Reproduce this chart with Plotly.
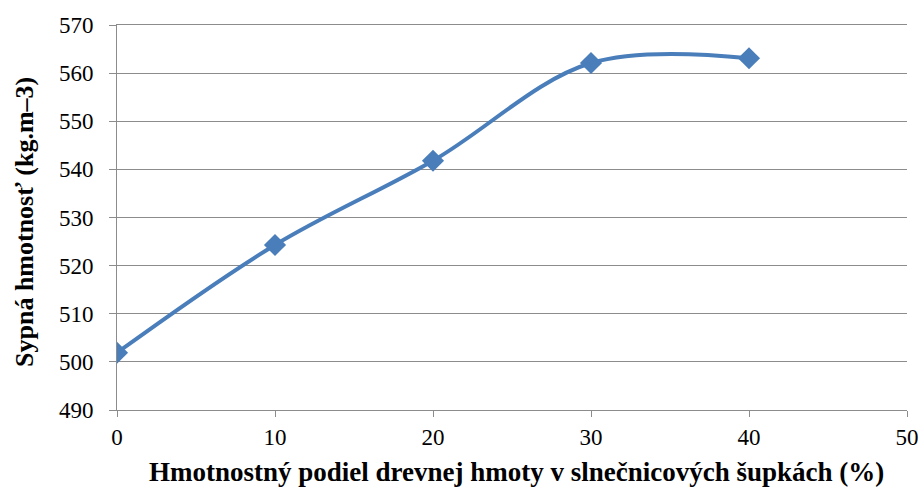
import plotly.graph_objects as go

x_vals = [0, 10, 20, 30, 40]
y_vals = [501.9, 524.3, 541.8, 562.1, 563.1]
x_ticks = [0, 10, 20, 30, 40, 50]
y_ticks = [490, 500, 510, 520, 530, 540, 550, 560, 570]
x_title = "<b>Hmotnostný podiel drevnej hmoty v slnečnicových šupkách (%)</b>"
y_title = "<b>Sypná hmotnosť (kg.m–3)</b>"

blue = "#4A7EBB"
grid = "#8C8C8C"
serif = "Liberation Serif"

L, R, T, B = 117, 14, 25, 81
W, H = 921, 491
pw, ph = W - L - R, H - T - B

fig = go.Figure()
fig.add_trace(go.Scatter(
    x=x_vals, y=y_vals, mode="lines+markers",
    line=dict(color=blue, width=4, shape="spline", smoothing=1.0),
    marker=dict(symbol="diamond", size=17, color=blue),
    showlegend=False,
))

fig.add_annotation(text=x_title, xref="paper", yref="paper",
                   x=(516 - L) / pw, y=(H - B - 472) / ph, xanchor="center", yanchor="middle",
                   showarrow=False, font=dict(family=serif, size=27, color="#000000"))
fig.add_annotation(text=y_title, xref="paper", yref="paper", textangle=-90,
                   x=(24 - L) / pw, y=(H - B - 222) / ph, xanchor="center", yanchor="middle",
                   showarrow=False, font=dict(family=serif, size=26, color="#000000"))

fig.update_layout(
    width=W, height=H,
    margin=dict(l=L, r=R, t=T, b=B),
    paper_bgcolor="white", plot_bgcolor="white",
    font=dict(family=serif, size=23, color="#000000"),
)
fig.update_xaxes(
    range=[0, 50], tickvals=x_ticks, ticktext=[str(v) for v in x_ticks],
    showgrid=False, zeroline=False, automargin=False,
    showline=True, linecolor=grid, linewidth=1, mirror=True,
    ticks="outside", ticklen=6, tickcolor=grid,
    tickfont=dict(family=serif, size=23),
)
fig.update_yaxes(
    range=[490, 570], tickvals=y_ticks, ticktext=[str(v) for v in y_ticks],
    showgrid=True, gridcolor=grid, gridwidth=1, zeroline=False, automargin=False,
    showline=True, linecolor=grid, linewidth=1,
    ticks="outside", ticklen=7, tickcolor=grid, ticklabelstandoff=11,
    tickfont=dict(family=serif, size=23),
)

fig.write_html("out.html")
